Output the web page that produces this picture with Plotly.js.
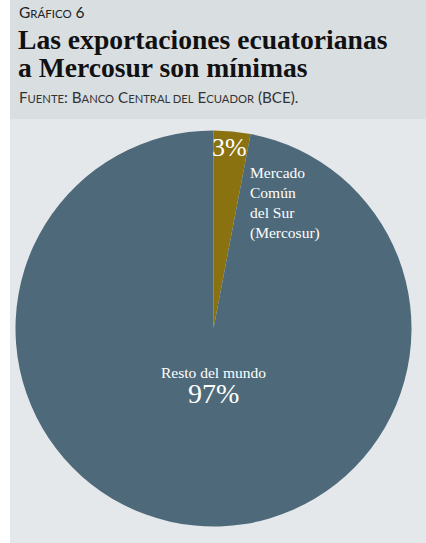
<!DOCTYPE html>
<html>
<head>
<meta charset="utf-8">
<script src="https://cdn.plot.ly/plotly-3.0.1.min.js"></script>
<style>html,body{margin:0;padding:0;background:#fff;}#chart{width:426px;height:543px;}</style>
</head>
<body>
<div id="chart"></div>
<script>
const categories = ["Mercado Común del Sur (Mercosur)", "Resto del mundo"];
const values = [3, 97];
const sliceColors = ["#8a7211", "#4e6a7a"];
const pctLabels = ["3%", "97%"];

const W = 426, H = 543;
const cx = 213.5, cy = 328.5, R = 198;
const px = x => x / W;
const py = y => 1 - y / H;

const serif = "Times New Roman, Liberation Serif, serif";
const sans = "Lato";
const sc = s => "<span style='font-size:0.74em'>" + s + "</span>";

const trace = {
  type: "pie",
  labels: categories,
  values: values,
  sort: false,
  direction: "clockwise",
  rotation: 0,
  textinfo: "none",
  hoverinfo: "label+percent",
  marker: {colors: sliceColors, line: {width: 0}},
  showlegend: false,
  domain: {x: [px(cx - R), px(cx + R)], y: [py(cy + R), py(cy - R)]}
};

const annotations = [
  {text: "G" + sc("RÁFICO") + " 6", x: px(17), y: py(12.5), xanchor: "left", yanchor: "middle",
   font: {family: sans, size: 15.5, color: "#222"}},
  {text: "Las exportaciones ecuatorianas", x: px(16), y: py(39), xanchor: "left", yanchor: "middle",
   font: {family: serif, size: 27.6, color: "#111", weight: 600}},
  {text: "a Mercosur son mínimas", x: px(16), y: py(67), xanchor: "left", yanchor: "middle",
   font: {family: serif, size: 27.6, color: "#111", weight: 600}},
  {text: "F" + sc("UENTE") + ": B" + sc("ANCO") + " C" + sc("ENTRAL DEL") + " E" + sc("CUADOR") + " (BCE).",
   x: px(17), y: py(96.5), xanchor: "left", yanchor: "middle", font: {family: sans, size: 15.2, color: "#333"}},
  {text: pctLabels[0], x: px(229), y: py(148), xanchor: "center", yanchor: "middle",
   font: {family: serif, size: 26, color: "#fff"}},
  {text: "Mercado<br>Común<br>del Sur<br>(Mercosur)",
   x: px(248), y: py(162), xanchor: "left", yanchor: "top", align: "left",
   font: {family: serif, size: 15.5, color: "#fff"}},
  {text: categories[1], x: px(213), y: py(372), xanchor: "center", yanchor: "middle",
   font: {family: serif, size: 15.5, color: "#fff"}},
  {text: pctLabels[1], x: px(213), y: py(393), xanchor: "center", yanchor: "middle",
   font: {family: serif, size: 28, color: "#fff"}}
];

const layout = {
  width: W, height: H,
  margin: {l: 0, r: 0, t: 0, b: 0},
  paper_bgcolor: "#ffffff",
  font: {family: serif},
  shapes: [
    {type: "rect", xref: "paper", yref: "paper", x0: px(10), x1: 1, y0: py(119), y1: 1,
     fillcolor: "#d9dee1", line: {width: 0}, layer: "below"},
    {type: "rect", xref: "paper", yref: "paper", x0: px(10), x1: 1, y0: 0, y1: py(119),
     fillcolor: "#e4e8eb", line: {width: 0}, layer: "below"}
  ],
  annotations: annotations.map(a => Object.assign({xref: "paper", yref: "paper", showarrow: false}, a))
};

Plotly.newPlot("chart", [trace], layout, {displayModeBar: false, staticPlot: true});
</script>
</body>
</html>
